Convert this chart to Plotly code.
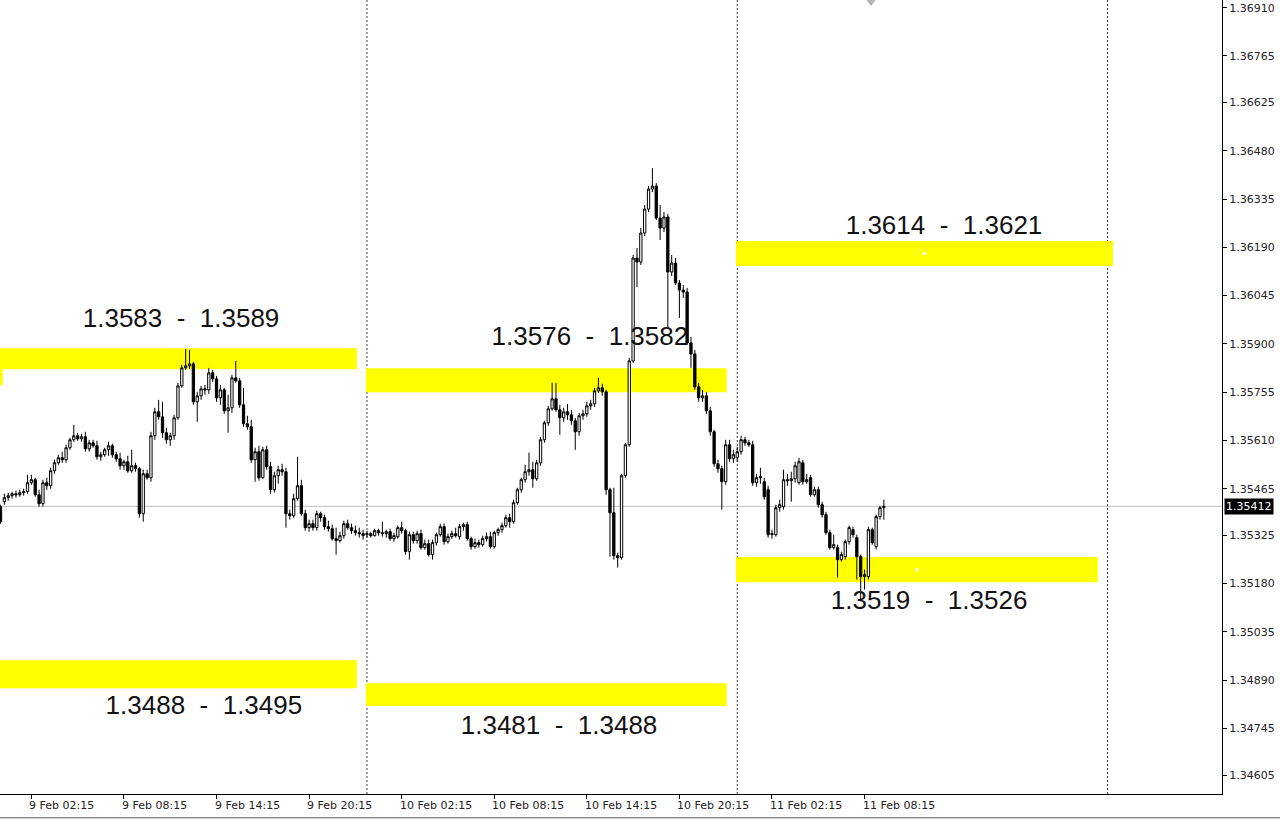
import plotly.graph_objects as go
from datetime import datetime, timedelta

# ---------------- data (15-minute OHLC) ----------------
feb9_open = [1.35411,1.35426,1.35438,1.35444,1.35450,1.35447,1.35453,1.35456,1.35483,1.35492,
 1.35447,1.35420,1.35483,1.35474,1.35519,1.35543,1.35558,1.35552,1.35588,1.35612,
 1.35624,1.35615,1.35621,1.35585,1.35603,1.35594,1.35561,1.35567,1.35582,1.35594,
 1.35567,1.35555,1.35534,1.35546,1.35519,1.35534,1.35525,1.35390,1.35510,1.35498,
 1.35624,1.35696,1.35681,1.35633,1.35612,1.35624,1.35678,1.35774,1.35828,1.35834,
 1.35840,1.35726,1.35744,1.35765,1.35762,1.35813,1.35795,1.35738,1.35762,1.35699,
 1.35708,1.35798,1.35789,1.35717,1.35660,1.35651,1.35552,1.35576,1.35498,1.35582,
 1.35531,1.35462,1.35504,1.35522,1.35516,1.35390,1.35384,1.35435,1.35474,1.35390,
 1.35348,1.35360,1.35348,1.35390,1.35378,1.35351,1.35345,1.35315,1.35309,1.35324,
 1.35360,1.35348,1.35339,1.35333,1.35330]
feb9_high = [1.35417,1.35450,1.35453,1.35456,1.35459,1.35462,1.35465,1.35507,1.35507,1.35498,
 1.35462,1.35492,1.35498,1.35528,1.35552,1.35567,1.35576,1.35597,1.35618,1.35657,
 1.35633,1.35630,1.35636,1.35612,1.35612,1.35609,1.35576,1.35588,1.35606,1.35600,
 1.35576,1.35573,1.35552,1.35564,1.35582,1.35543,1.35531,1.35522,1.35522,1.35636,
 1.35708,1.35732,1.35726,1.35648,1.35633,1.35687,1.35783,1.35837,1.35885,1.35882,
 1.35846,1.35756,1.35774,1.35777,1.35828,1.35822,1.35804,1.35777,1.35768,1.35747,
 1.35807,1.35849,1.35798,1.35768,1.35684,1.35672,1.35588,1.35594,1.35591,1.35594,
 1.35546,1.35516,1.35534,1.35540,1.35528,1.35402,1.35450,1.35561,1.35492,1.35402,
 1.35372,1.35372,1.35399,1.35396,1.35387,1.35369,1.35357,1.35348,1.35336,1.35369,
 1.35372,1.35360,1.35354,1.35348,1.35342]
feb9_low = [1.35360,1.35417,1.35429,1.35435,1.35438,1.35441,1.35444,1.35450,1.35477,1.35441,
 1.35411,1.35411,1.35462,1.35465,1.35510,1.35537,1.35543,1.35543,1.35582,1.35606,
 1.35609,1.35606,1.35576,1.35576,1.35588,1.35552,1.35549,1.35561,1.35564,1.35558,
 1.35546,1.35522,1.35522,1.35513,1.35513,1.35516,1.35378,1.35366,1.35492,1.35486,
 1.35612,1.35672,1.35618,1.35600,1.35594,1.35612,1.35672,1.35768,1.35822,1.35825,
 1.35717,1.35666,1.35732,1.35747,1.35750,1.35786,1.35726,1.35717,1.35690,1.35633,
 1.35693,1.35783,1.35708,1.35651,1.35642,1.35543,1.35486,1.35489,1.35495,1.35522,
 1.35450,1.35453,1.35480,1.35504,1.35348,1.35372,1.35378,1.35429,1.35384,1.35339,
 1.35336,1.35339,1.35339,1.35366,1.35342,1.35336,1.35309,1.35267,1.35303,1.35315,
 1.35342,1.35330,1.35324,1.35318,1.35312]
feb9_close = [1.35366,1.35438,1.35444,1.35450,1.35447,1.35453,1.35456,1.35483,1.35492,1.35447,
 1.35420,1.35483,1.35474,1.35519,1.35543,1.35558,1.35552,1.35588,1.35612,1.35624,
 1.35615,1.35621,1.35585,1.35603,1.35594,1.35561,1.35567,1.35582,1.35594,1.35567,
 1.35555,1.35534,1.35546,1.35519,1.35534,1.35525,1.35390,1.35510,1.35498,1.35624,
 1.35696,1.35681,1.35633,1.35612,1.35624,1.35678,1.35774,1.35828,1.35834,1.35840,
 1.35726,1.35744,1.35765,1.35762,1.35813,1.35795,1.35738,1.35762,1.35699,1.35708,
 1.35798,1.35789,1.35717,1.35660,1.35651,1.35552,1.35576,1.35498,1.35582,1.35531,
 1.35462,1.35504,1.35522,1.35516,1.35390,1.35384,1.35435,1.35474,1.35390,1.35348,
 1.35360,1.35348,1.35390,1.35378,1.35351,1.35345,1.35315,1.35309,1.35324,1.35360,
 1.35348,1.35339,1.35333,1.35330,1.35324]

feb10_open = [1.35327,1.35330,1.35324,1.35339,1.35333,1.35330,1.35336,1.35315,1.35321,1.35348,
 1.35339,1.35276,1.35327,1.35309,1.35330,1.35288,1.35300,1.35267,1.35303,1.35327,
 1.35351,1.35306,1.35321,1.35330,1.35321,1.35351,1.35357,1.35315,1.35291,1.35303,
 1.35297,1.35315,1.35321,1.35291,1.35333,1.35342,1.35354,1.35378,1.35366,1.35423,
 1.35462,1.35492,1.35516,1.35522,1.35495,1.35543,1.35612,1.35663,1.35705,1.35735,
 1.35702,1.35678,1.35696,1.35687,1.35669,1.35636,1.35684,1.35690,1.35714,1.35720,
 1.35759,1.35768,1.35756,1.35462,1.35393,1.35264,1.35258,1.35504,1.35597,1.35849,
 1.36158,1.36146,1.36233,1.36305,1.36365,1.36374,1.36278,1.36248,1.36281,1.36116,
 1.36143,1.36083,1.36062,1.36056,1.35903,1.35870,1.35771,1.35738,1.35744,1.35699,
 1.35636,1.35540,1.35525,1.35486,1.35597,1.35555]
feb10_high = [1.35339,1.35336,1.35345,1.35345,1.35366,1.35342,1.35345,1.35333,1.35354,1.35366,
 1.35345,1.35336,1.35336,1.35339,1.35342,1.35312,1.35312,1.35312,1.35333,1.35360,
 1.35360,1.35330,1.35339,1.35348,1.35360,1.35363,1.35366,1.35321,1.35315,1.35312,
 1.35324,1.35333,1.35336,1.35339,1.35348,1.35363,1.35387,1.35390,1.35432,1.35468,
 1.35498,1.35537,1.35573,1.35546,1.35552,1.35621,1.35669,1.35714,1.35783,1.35783,
 1.35717,1.35708,1.35720,1.35702,1.35678,1.35693,1.35702,1.35726,1.35732,1.35768,
 1.35798,1.35780,1.35762,1.35468,1.35468,1.35273,1.35510,1.35603,1.35858,1.36167,
 1.36188,1.36248,1.36317,1.36374,1.36428,1.36383,1.36317,1.36296,1.36290,1.36167,
 1.36158,1.36092,1.36077,1.36068,1.35921,1.35882,1.35783,1.35762,1.35756,1.35711,
 1.35642,1.35552,1.35534,1.35612,1.35612,1.35582]
feb10_low = [1.35318,1.35318,1.35321,1.35324,1.35321,1.35318,1.35309,1.35306,1.35315,1.35330,
 1.35267,1.35252,1.35300,1.35300,1.35282,1.35282,1.35261,1.35252,1.35294,1.35321,
 1.35297,1.35300,1.35315,1.35318,1.35312,1.35339,1.35309,1.35282,1.35285,1.35288,
 1.35291,1.35306,1.35285,1.35285,1.35324,1.35333,1.35348,1.35348,1.35360,1.35417,
 1.35453,1.35483,1.35504,1.35468,1.35489,1.35534,1.35603,1.35654,1.35699,1.35696,
 1.35627,1.35666,1.35672,1.35657,1.35582,1.35624,1.35672,1.35681,1.35702,1.35711,
 1.35753,1.35744,1.35447,1.35261,1.35252,1.35228,1.35252,1.35498,1.35591,1.35843,
 1.36071,1.36137,1.36224,1.36296,1.36356,1.36272,1.36212,1.36236,1.35948,1.36104,
 1.36077,1.35978,1.36038,1.35897,1.35828,1.35762,1.35726,1.35726,1.35690,1.35624,
 1.35531,1.35513,1.35402,1.35477,1.35546,1.35543]
feb10_close = [1.35330,1.35324,1.35339,1.35333,1.35330,1.35336,1.35315,1.35324,1.35348,1.35339,
 1.35276,1.35327,1.35309,1.35330,1.35288,1.35300,1.35267,1.35303,1.35327,1.35351,
 1.35306,1.35321,1.35330,1.35324,1.35351,1.35357,1.35315,1.35291,1.35303,1.35297,
 1.35315,1.35321,1.35291,1.35333,1.35342,1.35354,1.35378,1.35366,1.35423,1.35462,
 1.35492,1.35516,1.35522,1.35495,1.35543,1.35612,1.35663,1.35705,1.35735,1.35702,
 1.35678,1.35696,1.35687,1.35669,1.35636,1.35684,1.35690,1.35714,1.35720,1.35759,
 1.35768,1.35756,1.35462,1.35393,1.35264,1.35258,1.35504,1.35597,1.35849,1.36158,
 1.36146,1.36233,1.36305,1.36365,1.36374,1.36278,1.36248,1.36281,1.36116,1.36143,
 1.36083,1.36062,1.36056,1.35903,1.35870,1.35771,1.35738,1.35744,1.35699,1.35636,
 1.35540,1.35525,1.35486,1.35597,1.35555,1.35567]

feb11_open = [1.35558,1.35576,1.35612,1.35603,1.35597,1.35483,1.35498,1.35486,1.35462,1.35327,
 1.35327,1.35408,1.35411,1.35492,1.35489,1.35495,1.35483,1.35543,1.35486,1.35498,
 1.35447,1.35462,1.35417,1.35387,1.35333,1.35288,1.35288,1.35252,1.35261,1.35306,
 1.35342,1.35318,1.35261,1.35201,1.35201,1.35342,1.35291,1.35381,1.35408]
feb11_high = [1.35591,1.35624,1.35621,1.35612,1.35609,1.35510,1.35528,1.35498,1.35474,1.35342,
 1.35417,1.35432,1.35522,1.35510,1.35516,1.35546,1.35558,1.35552,1.35510,1.35507,
 1.35471,1.35471,1.35426,1.35396,1.35342,1.35327,1.35297,1.35276,1.35312,1.35354,
 1.35351,1.35327,1.35267,1.35222,1.35351,1.35348,1.35387,1.35414,1.35432]
feb11_low = [1.35546,1.35567,1.35594,1.35591,1.35474,1.35471,1.35480,1.35432,1.35318,1.35315,
 1.35321,1.35396,1.35402,1.35474,1.35426,1.35483,1.35477,1.35477,1.35480,1.35441,
 1.35441,1.35408,1.35378,1.35327,1.35282,1.35282,1.35198,1.35246,1.35252,1.35297,
 1.35318,1.35192,1.35132,1.35162,1.35192,1.35297,1.35282,1.35372,1.35372]
feb11_close = [1.35576,1.35612,1.35603,1.35597,1.35483,1.35498,1.35501,1.35441,1.35327,1.35330,
 1.35408,1.35417,1.35492,1.35489,1.35495,1.35534,1.35546,1.35486,1.35492,1.35447,
 1.35462,1.35417,1.35387,1.35333,1.35288,1.35297,1.35252,1.35267,1.35306,1.35348,
 1.35327,1.35261,1.35201,1.35207,1.35342,1.35303,1.35381,1.35408,1.35412]

first_bar = "2026-02-09 00:15"
bar_minutes = 15
bid_price = 1.35412

price_labels = ["1.36910","1.36765","1.36625","1.36480","1.36335","1.36190","1.36045","1.35900",
                "1.35755","1.35610","1.35465","1.35325","1.35180","1.35035","1.34890","1.34745","1.34605"]
time_ticks = ["2026-02-09 02:15","2026-02-09 08:15","2026-02-09 14:15","2026-02-09 20:15",
              "2026-02-10 02:15","2026-02-10 08:15","2026-02-10 14:15","2026-02-10 20:15",
              "2026-02-11 02:15","2026-02-11 08:15"]
time_labels = ["9 Feb 02:15","9 Feb 08:15","9 Feb 14:15","9 Feb 20:15","10 Feb 02:15",
               "10 Feb 08:15","10 Feb 14:15","10 Feb 20:15","11 Feb 02:15","11 Feb 08:15"]
day_starts = ["2026-02-10 00:00","2026-02-11 00:00","2026-02-12 00:00"]

# zones: start, end, low, high
zone_start = ["2026-02-08 22:00","2026-02-08 22:00","2026-02-08 22:00","2026-02-09 23:56","2026-02-09 23:56","2026-02-10 23:55","2026-02-10 23:55"]
zone_end   = ["2026-02-09 00:24","2026-02-09 23:21","2026-02-09 23:21","2026-02-10 23:19","2026-02-10 23:19","2026-02-12 00:21","2026-02-11 23:22"]
zone_low   = [1.35776,1.35824,1.34866,1.35755,1.34812,1.36134,1.35184]
zone_high  = [1.35827,1.35887,1.34950,1.35827,1.34881,1.36209,1.35260]

label_text  = ["1.3583  -  1.3589","1.3488  -  1.3495","1.3576  -  1.3582",
               "1.3481  -  1.3488","1.3614  -  1.3621","1.3519  -  1.3526"]
label_time  = ["2026-02-09 11:57","2026-02-09 13:26","2026-02-10 14:27",
               "2026-02-10 12:27","2026-02-11 13:24","2026-02-11 12:26"]
label_price = [1.35969,1.34809,1.35915,1.34749,1.36251,1.35124]

marker_time = "2026-02-11 08:40"

x_range = ["2026-02-09 00:13","2026-02-12 07:25"]
y_range = [1.34548, 1.36933]

# ---------------- build ----------------
opens = feb9_open + feb10_open + feb11_open
highs = feb9_high + feb10_high + feb11_high
lows = feb9_low + feb10_low + feb11_low
closes = feb9_close + feb10_close + feb11_close
t0 = datetime.strptime(first_bar, "%Y-%m-%d %H:%M")
times = [t0 + timedelta(minutes=bar_minutes * i) for i in range(len(closes))]

def dt(s):
    return datetime.strptime(s, "%Y-%m-%d %H:%M")

fig = go.Figure()

# level labels (drawn beneath the candles)
fig.add_trace(go.Scatter(
    x=label_time, y=label_price, mode="text", text=label_text,
    textfont=dict(family="Liberation Sans, Arial", size=26, color="#111111"),
    hoverinfo="skip", showlegend=False))

fig.add_trace(go.Candlestick(
    x=times, open=opens, high=highs, low=lows, close=closes,
    increasing=dict(line=dict(color="#000000", width=1), fillcolor="#ffffff"),
    decreasing=dict(line=dict(color="#000000", width=1), fillcolor="#000000"),
    whiskerwidth=0, hoverinfo="skip", showlegend=False))

# zone centre points (object anchors) for the two right-hand zones
cx, cy = [], []
for j in (5, 6):
    a, b = dt(zone_start[j]), dt(zone_end[j])
    cx.append(a + (b - a) / 2)
    cy.append((zone_low[j] + zone_high[j]) / 2)
fig.add_trace(go.Scatter(x=cx, y=cy, mode="markers",
    marker=dict(symbol="square", size=3, color="#ffffff", line=dict(width=0)),
    hoverinfo="skip", showlegend=False))

# small marker at top edge
fig.add_trace(go.Scatter(x=[marker_time], y=[y_range[1]], mode="markers",
    marker=dict(symbol="triangle-down", size=12, color="#b4b4b4", line=dict(width=0)),
    hoverinfo="skip", showlegend=False))

shapes = []
for s, e, lo, hi in zip(zone_start, zone_end, zone_low, zone_high):
    shapes.append(dict(type="rect", xref="x", yref="y", x0=s, x1=e, y0=lo, y1=hi,
                       fillcolor="#ffff00", line=dict(width=0), layer="below"))
for d in day_starts:
    shapes.append(dict(type="line", xref="x", yref="paper", x0=d, x1=d, y0=0, y1=1,
                       line=dict(color="#3a3a3a", width=1, dash="2px,2px"), layer="below"))
shapes.append(dict(type="line", xref="paper", yref="y", x0=0, x1=1, y0=bid_price, y1=bid_price,
                   line=dict(color="#c0c0c0", width=1), layer="below"))
shapes.append(dict(type="line", xref="paper", yref="paper", x0=0, x1=1.06, y0=-0.030, y1=-0.030,
                   line=dict(color="#555555", width=1)))

annotations = []
for tv, tl in zip(time_ticks, time_labels):
    annotations.append(dict(x=tv, y=0, xref="x", yref="paper", text=tl, showarrow=False,
                            xanchor="left", yanchor="top", xshift=-4, yshift=-3,
                            font=dict(family="DejaVu Sans", size=11, color="#222222")))
annotations.append(dict(x=1, y=bid_price, xref="paper", yref="y", text="1.35412", showarrow=False,
                        xanchor="left", yanchor="middle", xshift=2, bgcolor="#000000",
                        borderpad=1, font=dict(family="DejaVu Sans", size=11, color="#ffffff")))

fig.update_layout(
    width=1280, height=821,
    margin=dict(l=0, r=58, t=0, b=27),
    paper_bgcolor="#ffffff", plot_bgcolor="#ffffff",
    boxgap=0.15,
    shapes=shapes, annotations=annotations, showlegend=False,
    xaxis=dict(type="date", range=x_range, showgrid=False, zeroline=False,
               showline=True, linecolor="#000000", linewidth=1, mirror=True,
               ticks="outside", ticklen=4, tickcolor="#000000",
               tickvals=time_ticks, showticklabels=False,
               rangeslider=dict(visible=False)),
    yaxis=dict(side="right", range=y_range, showgrid=False, zeroline=False,
               showline=True, linecolor="#000000", linewidth=1,
               ticks="outside", ticklen=4, tickcolor="#000000",
               tickvals=[float(v) for v in price_labels], ticktext=price_labels,
               tickfont=dict(family="DejaVu Sans", size=11, color="#222222")),
)

fig.write_html("out.html", config={"displayModeBar": False},
               post_script="document.body.style.margin='0';document.body.style.overflow='hidden';")
